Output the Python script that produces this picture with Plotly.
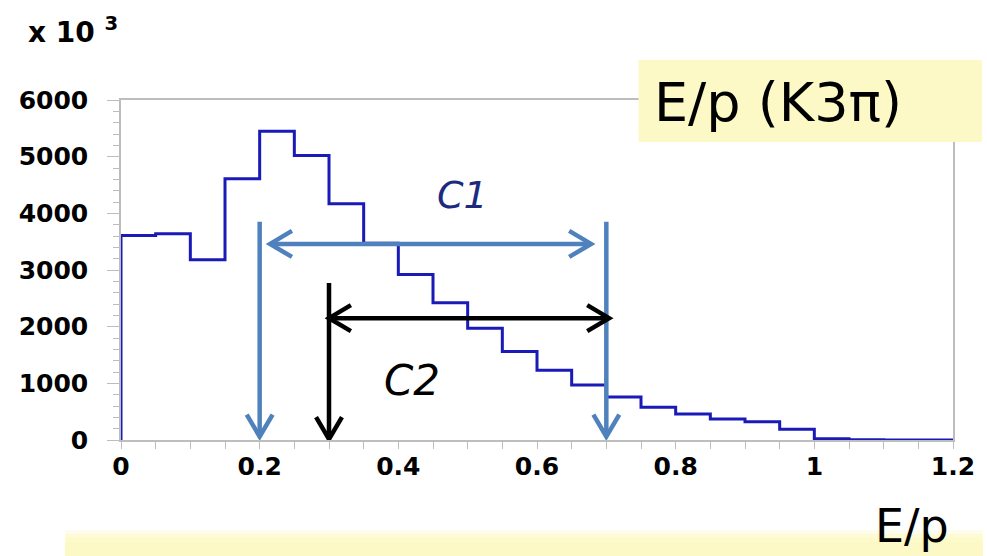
import plotly.graph_objects as go

# ---------------- data ----------------
BIN_EDGES = [0.00, 0.05, 0.10, 0.15, 0.20, 0.25, 0.30, 0.35, 0.40, 0.45, 0.50, 0.55,
             0.60, 0.65, 0.70, 0.75, 0.80, 0.85, 0.90, 0.95, 1.00, 1.05, 1.10, 1.15, 1.20]
COUNTS = [3610, 3640, 3180, 4610, 5450, 5020, 4170, 3470, 2920, 2420, 1970, 1560,
          1230, 970, 760, 580, 460, 370, 320, 190, 20, 5, 0, 0]

X_TICKS = [0, 0.2, 0.4, 0.6, 0.8, 1.0, 1.2]
X_TICK_LABELS = ["0", "0.2", "0.4", "0.6", "0.8", "1", "1.2"]
Y_TICKS = [0, 1000, 2000, 3000, 4000, 5000, 6000]
Y_TICK_LABELS = ["0", "1000", "2000", "3000", "4000", "5000", "6000"]

# cut markers (E/p values and heights in counts)
C1_CUTS = [0.2, 0.7]
C1_CUT_TOP = 3850
C1_SPAN = [0.215, 0.678]
C1_LEVEL = 3460
C2_CUT = 0.3
C2_CUT_TOP = 2770
C2_SPAN = [0.300, 0.704]
C2_LEVEL = 2150
ARROW_TIP_Y = 60

# ---------------- layout geometry ----------------
W, H = 987, 556
ML, MR, MT, MB = 121, 30, 100, 116
X_RANGE = [0, 1.2]
Y_RANGE = [0, 6000]
PLOT_W = W - ML - MR
PLOT_H = H - MT - MB
SX = PLOT_W / (X_RANGE[1] - X_RANGE[0])
SY = PLOT_H / (Y_RANGE[1] - Y_RANGE[0])

BLUE_ARROW = "#4f81bd"
BLACK = "#000000"
HIST = "#1a1ab8"
YELLOW = "#fcf9c6"


def chevron(tx, ty, dx, dy, length=22, half=13):
    """open arrowhead at (tx,ty) pointing in pixel direction (dx,dy), y up"""
    bx = tx - length * dx / SX
    by = ty - length * dy / SY
    nx, ny = -dy, dx
    return ([bx + half * nx / SX, tx, bx - half * nx / SX, None],
            [by + half * ny / SY, ty, by - half * ny / SY, None])


def arrow_trace(xs, ys, heads, color, width):
    px, py = list(xs) + [None], list(ys) + [None]
    for (tx, ty, dx, dy) in heads:
        cx, cy = chevron(tx, ty, dx, dy)
        px += cx
        py += cy
    return go.Scatter(x=px, y=py, mode="lines", hoverinfo="skip", showlegend=False,
                      line=dict(color=color, width=width))


fig = go.Figure()

# histogram as step line
hx = [BIN_EDGES[0]] + BIN_EDGES
hy = [0] + COUNTS + [COUNTS[-1]]
fig.add_trace(go.Scatter(x=hx, y=hy, mode="lines", line_shape="hv",
                         line=dict(color=HIST, width=3), showlegend=False, hoverinfo="skip"))

# C1 vertical cut arrows
for cx in C1_CUTS:
    fig.add_trace(arrow_trace([cx, cx], [C1_CUT_TOP, ARROW_TIP_Y],
                              [(cx, ARROW_TIP_Y, 0, -1)], BLUE_ARROW, 4.5))
# C1 horizontal double arrow
fig.add_trace(arrow_trace(C1_SPAN, [C1_LEVEL, C1_LEVEL],
                          [(C1_SPAN[0], C1_LEVEL, -1, 0), (C1_SPAN[1], C1_LEVEL, 1, 0)],
                          BLUE_ARROW, 4.5))
# C2 vertical cut arrow
fig.add_trace(arrow_trace([C2_CUT, C2_CUT], [C2_CUT_TOP, 15],
                          [(C2_CUT, 15, 0, -1)], BLACK, 4.5))
# C2 horizontal double arrow
fig.add_trace(arrow_trace(C2_SPAN, [C2_LEVEL, C2_LEVEL],
                          [(C2_SPAN[0], C2_LEVEL, -1, 0), (C2_SPAN[1], C2_LEVEL, 1, 0)],
                          BLACK, 4.5))

AX_GRAY = "#bdbdbd"
TICK_FONT = dict(family="DejaVu Sans", size=25, color="black", weight="bold")

fig.update_xaxes(range=X_RANGE, tickvals=X_TICKS, ticktext=X_TICK_LABELS,
                 showgrid=False, zeroline=False, showline=True, linecolor=AX_GRAY,
                 linewidth=1.5, mirror=True, ticks="outside", ticklen=7,
                 tickcolor=AX_GRAY, tickwidth=1, tickfont=TICK_FONT,
                 ticklabelstandoff=-4,
                 minor=dict(dtick=0.05, ticks="outside", ticklen=7, tickcolor=AX_GRAY))
fig.update_yaxes(range=Y_RANGE, tickvals=Y_TICKS, ticktext=Y_TICK_LABELS,
                 showgrid=False, zeroline=False, showline=True, linecolor=AX_GRAY,
                 linewidth=1.5, mirror=True, ticks="outside", ticklen=12,
                 tickcolor=AX_GRAY, tickwidth=1, tickfont=TICK_FONT,
                 ticklabelstandoff=14,
                 minor=dict(dtick=200, ticks="outside", ticklen=6, tickcolor=AX_GRAY))


def px_x(p):
    return (p - ML) / PLOT_W


def px_y(p):
    return (H - MB - p) / PLOT_H


shapes = [
    # title box
    dict(type="rect", xref="paper", yref="paper", x0=px_x(641), x1=px_x(986),
         y0=px_y(142), y1=px_y(60), fillcolor=YELLOW, line=dict(width=0), layer="above"),
]
# faded bottom band
band = [(530, 0.35), (534, 0.6), (538, 0.85), (542, 1.0)]
for top, op in band:
    shapes.append(dict(type="rect", xref="paper", yref="paper", x0=px_x(65), x1=px_x(987),
                       y0=px_y(556), y1=px_y(top), fillcolor=YELLOW, opacity=op,
                       line=dict(width=0), layer="above"))

annotations = [
    dict(text="x 10 <sup>3</sup>", xref="paper", yref="paper", x=px_x(26), y=px_y(30),
         xanchor="left", yanchor="middle", showarrow=False,
         font=dict(family="DejaVu Sans", size=28, color="black", weight="bold")),
    dict(text="E/p (K3π)", xref="paper", yref="paper", x=px_x(781), y=px_y(103),
         xanchor="center", yanchor="middle", showarrow=False,
         font=dict(family="DejaVu Sans", size=54, color="black")),
    dict(text="E/p", xref="paper", yref="paper", x=px_x(916), y=px_y(526),
         xanchor="center", yanchor="middle", showarrow=False,
         font=dict(family="DejaVu Sans", size=46, color="black")),
    dict(text="<i>C1</i>", x=0.492, y=4330, xref="x", yref="y", showarrow=False,
         xanchor="center", yanchor="middle",
         font=dict(family="DejaVu Sans", size=38, color="#1c2a80")),
    dict(text="<i>C2</i>", x=0.42, y=1050, xref="x", yref="y", showarrow=False,
         xanchor="center", yanchor="middle",
         font=dict(family="DejaVu Sans", size=42, color="black")),
]

fig.update_layout(width=W, height=H, margin=dict(l=ML, r=MR, t=MT, b=MB),
                  paper_bgcolor="white", plot_bgcolor="white",
                  shapes=shapes, annotations=annotations, showlegend=False)

fig.write_html("out.html")
